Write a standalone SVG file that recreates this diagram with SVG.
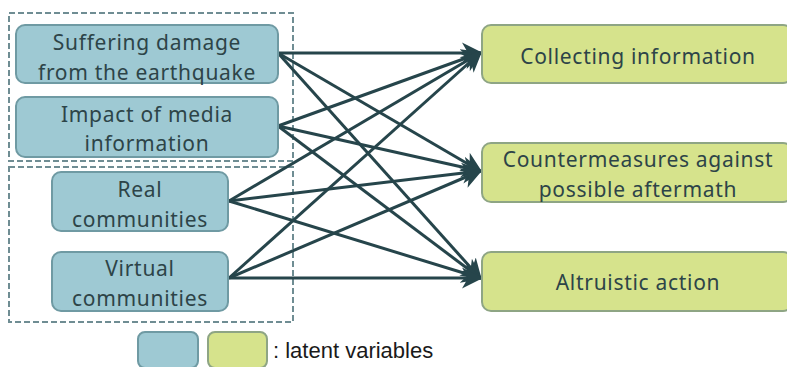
<svg xmlns="http://www.w3.org/2000/svg" width="787" height="367" viewBox="0 0 787 367">
<defs>
<style>
.blue{fill:#9ec9d3;stroke:#6f9aa3;stroke-width:2}
.green{fill:#d6e38c;stroke:#8ea584;stroke-width:2}
.lbl{font-family:"Noto Sans","DejaVu Sans",sans-serif;font-size:21px;letter-spacing:0.7px;fill:#2d4448;text-anchor:middle}
.grp{fill:none;stroke:#6f8d93;stroke-width:2;stroke-dasharray:6,3}
.edge{stroke:#26454b;stroke-width:3;fill:none;marker-end:url(#ah)}
</style>
<marker id="ah" markerWidth="8" markerHeight="8" refX="6" refY="4" orient="auto" markerUnits="strokeWidth">
<path d="M0,0.5 L7,4 L0,7.5 L2,4 Z" fill="#26454b"/>
</marker>
</defs>
<rect width="787" height="367" fill="#ffffff"/>
<g id="groups">
<rect class="grp" x="9" y="13" width="284" height="148"/>
<rect class="grp" x="9" y="167" width="284" height="155"/>
</g>
<g id="connectors">
<line class="edge" x1="278" y1="53" x2="480" y2="53"/>
<line class="edge" x1="278" y1="53" x2="480" y2="171"/>
<line class="edge" x1="278" y1="53" x2="480" y2="278"/>
<line class="edge" x1="278" y1="126" x2="480" y2="53"/>
<line class="edge" x1="278" y1="126" x2="480" y2="171"/>
<line class="edge" x1="278" y1="126" x2="480" y2="278"/>
<line class="edge" x1="229" y1="201" x2="480" y2="53"/>
<line class="edge" x1="229" y1="201" x2="480" y2="171"/>
<line class="edge" x1="229" y1="201" x2="480" y2="278"/>
<line class="edge" x1="229" y1="278" x2="480" y2="53"/>
<line class="edge" x1="229" y1="278" x2="480" y2="171"/>
<line class="edge" x1="229" y1="278" x2="480" y2="278"/>
</g>
<g id="n1"><rect class="blue" x="16" y="25" width="262" height="58" rx="9"/><text class="lbl" x="147" y="50">Suffering damage</text><text class="lbl" x="147" y="80">from the earthquake</text></g>
<g id="n2"><rect class="blue" x="16" y="97" width="262" height="60" rx="9"/><text class="lbl" x="147" y="122">Impact of media</text><text class="lbl" x="147" y="151">information</text></g>
<g id="n3"><rect class="blue" x="52" y="172" width="176" height="59" rx="9"/><text class="lbl" x="140" y="197">Real</text><text class="lbl" x="140" y="227">communities</text></g>
<g id="n4"><rect class="blue" x="52" y="252" width="176" height="59" rx="9"/><text class="lbl" x="140" y="276">Virtual</text><text class="lbl" x="140" y="306">communities</text></g>
<g id="t1"><rect class="green" x="482" y="25" width="310" height="58" rx="9"/><text class="lbl" x="638" y="64">Collecting information</text></g>
<g id="t2"><rect class="green" x="482" y="143" width="310" height="59" rx="9"/><text class="lbl" x="638" y="167">Countermeasures against</text><text class="lbl" x="638" y="197">possible aftermath</text></g>
<g id="t3"><rect class="green" x="482" y="252" width="310" height="59" rx="9"/><text class="lbl" x="638" y="290">Altruistic action</text></g>
<g id="legend">
<rect class="blue" x="138" y="332" width="60" height="36" rx="7"/>
<rect class="green" x="208" y="332" width="59" height="36" rx="7"/>
<text x="273" y="358" font-family="'Liberation Sans',Arial,sans-serif" font-size="22" fill="#1a1a1a">: latent variables</text>
</g>
</svg>
